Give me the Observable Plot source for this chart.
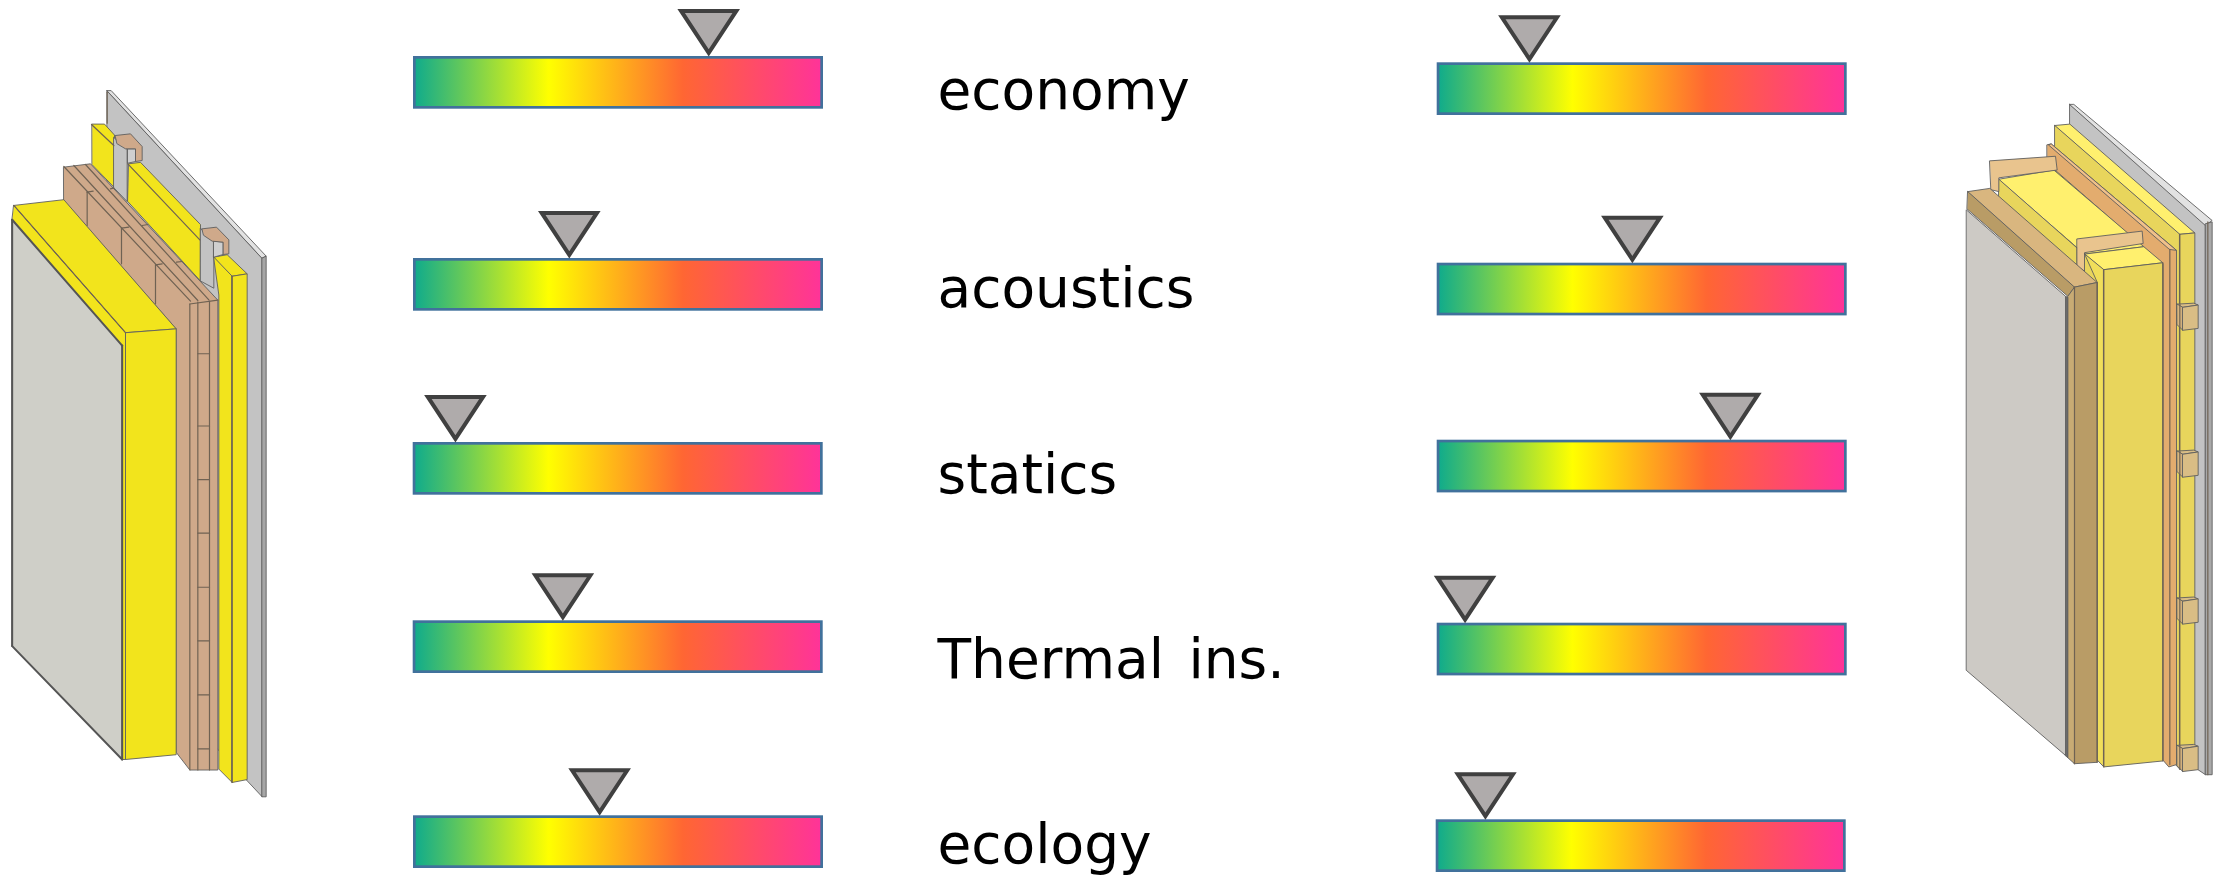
<!DOCTYPE html>
<html>
<head>
<meta charset="utf-8">
<script src="https://cdn.jsdelivr.net/npm/d3@7"></script>
<script src="https://cdn.jsdelivr.net/npm/@observablehq/plot@0.6"></script>
<style>
html,body{margin:0;padding:0;background:#fff;overflow:hidden}
svg{display:block}
svg text{word-spacing:7px}
.wall{filter:blur(0.45px)}
</style>
</head>
<body>
<div id="chart"></div>
<script>
// ---- chart values (position of the marker on each 0–100 scale) ----
const categories = ["economy", "acoustics", "statics", "Thermal ins.", "ecology"];
const leftScores  = [72, 38, 10.3, 36.5, 45.4];
const rightScores = [22.5, 47.6, 71.5, 6.8, 12];

// ---- gradient of the scale ----
const gradientOffsets = [0, 0.33, 0.66, 1];
const gradientColors  = ["#0fab8c", "#ffff00", "#ff6633", "#ff3399"];

// ---- layout of the rows, in page units ----
const leftBarStart  = [413, 413, 412.7, 412.7, 413];
const rightBarStart = [1436.7, 1436.7, 1436.7, 1436.7, 1435.7];
const leftBarTop    = [56, 258, 442, 620.3, 815.3];
const rightBarTop   = [62.3, 262.7, 439.7, 622.7, 819.3];
const labelBaseline = [108, 306, 492, 677.5, 862.5];
const barLength = 410, barHeight = 52.7, labelStart = 937;

const barRows = (starts, tops, scores) => categories.map((category, i) => ({
  category, score: scores[i],
  x1: starts[i] + 1.35, x2: starts[i] + barLength - 1.35,
  y1: tops[i] + 1.35, y2: tops[i] + barHeight - 1.35,
  markerX: starts[i] + scores[i] / 100 * barLength,
  markerY: tops[i]
}));
const rows = [
  ...barRows(leftBarStart, leftBarTop, leftScores),
  ...barRows(rightBarStart, rightBarTop, rightScores)
];
const labels = categories.map((category, i) => ({category, y: labelBaseline[i]}));

// inverted triangle, its tip sitting just above the anchor point
const markerSymbol = {
  draw(ctx, size) {
    const r = Math.sqrt(size / Math.PI);
    ctx.moveTo(0, -0.13 * r);
    ctx.lineTo(r, -1.65 * r);
    ctx.lineTo(-r, -1.65 * r);
    ctx.closePath();
  }
};

// ---- decorative wall sections: outlines ----
const Y = "#f2e41c", T = "#cfa98a", G = "#c3c3c3";
const leftWallShapes = [
  [G, [[320,42],[785,392],[785,1518],[640,1410],[640,500],[320,240]]],
  ["#e2e2e2", [[320,42],[332,42],[797,388],[785,392]]],
  ["#a6a6a6", [[785,392],[797,388],[797,1518],[785,1518]]],
  [Y, [[275,112],[312,112],[342,135],[342,245],[275,197]]],
  [G, [[340,140],[380,165],[380,274],[340,245]]],
  [Y, [[385,195],[420,192],[600,322],[600,440],[382,274]]],
  [G, [[600,330],[640,355],[640,455],[600,440]]],
  [Y, [[640,390],[680,385],[740,425],[695,430]]],
  [Y, [[640,390],[695,430],[695,1488],[655,1460],[655,470]]],
  [Y, [[695,430],[740,425],[740,1482],[695,1488]]],
  [T, [[190,202],[270,195],[652,480],[652,1462],[568,1462],[527,1425],[527,540],[190,272]]],
  [Y, [[40,282],[190,270],[527,540],[375,548]]],
  [Y, [[375,548],[527,540],[527,1430],[375,1440]]],
  [Y, [[40,282],[375,548],[375,1440],[365,1440],[365,575],[35,312]]],
  ["#cfcfc8", [[35,312],[365,575],[365,1440],[35,1203]]]
];
// caps of the two wall ties and the edges on top of the timber, traced on a finer crop
const leftTieShapes = [
  ["#cfcfcf", [[232,205],[255,205],[255,243],[232,248]]],
  [T, [[195,165],[240,160],[275,198],[275,240],[255,243],[255,205],[225,205],[200,190]]],
  ["#cfcfcf", [[490,482],[518,485],[518,522],[490,530]]],
  [T, [[455,445],[498,440],[535,478],[535,520],[518,522],[518,485],[485,482],[460,465]]]
];
const leftTopLines = [
  [[40,258],[420,662]], [[70,255],[442,660]], [[105,252],[475,658]],
  [[110,335],[110,435]], [[213,443],[213,550]], [[315,553],[315,670]],
  [[110,335],[128,332]], [[213,443],[235,440]], [[315,553],[335,550]],
  [[180,325],[190,322]], [[275,435],[292,432]], [[378,545],[395,543]],
  [[232,250],[448,478]], [[123,132],[190,195]], [[170,35],[170,128]]
];
const leftWallLines = [
  [[40,282],[375,548]], [[568,488],[652,480]],
  [[568,488],[568,1462]], [[592,484],[592,1462]], [[627,482],[627,1462]],
  [[592,592],[627,592]], [[592,743],[627,743]], [[592,855],[627,855]], [[592,967],[627,967]],
  [[592,1080],[627,1080]], [[592,1192],[627,1192]], [[592,1305],[627,1305]], [[592,1418],[627,1418]],
  [[695,430],[695,1488]]
];
const leftPanelEdges = [[[35,312],[365,575]], [[365,575],[365,1440]], [[35,312],[35,1203]], [[35,1203],[365,1440]]];
const BY = "#e8d55c", LY = "#fff06e", W = "#d9b67f", D = "#b99c66", O = "#e3ac6e", B = "#d9bd85", BT = "#e9c48e";
const block = y => [
  [B, [[740,y-5],[790,y-7],[803,y-3],[757,y+2]]],
  [W, [[740,y-5],[757,y+2],[757,y+52],[740,y+40]]],
  [B, [[757,y+2],[803,y-3],[803,y+48],[757,y+52]]]
];
const rightWallShapes = [
  [G, [[418,52],[825,312],[825,1512],[790,1495],[418,500]]],
  ["#e2e2e2", [[418,52],[430,52],[845,305],[825,315]]],
  ["#a9a9a9", [[825,312],[845,308],[845,1512],[825,1512]]],
  [LY, [[373,98],[418,95],[793,332],[748,335]]],
  [BY, [[373,98],[748,335],[748,1500],[735,1490],[373,300]]],
  [BY, [[748,335],[793,332],[793,1500],[748,1500]]],
  [O,  [[350,140],[362,138],[738,370],[738,1490],[715,1495],[697,1480],[697,400],[350,180]]],
  ["#f0c08a", [[355,140],[362,138],[738,370],[718,368]]],
  [LY, [[205,215],[370,195],[640,362],[463,378]]],
  [BY, [[205,215],[440,365],[440,410],[205,262]]],
  [BT, [[178,175],[375,165],[380,195],[205,212],[205,242],[182,238]]],
  [BT, [[440,345],[635,328],[638,355],[462,375],[462,415],[440,405]]],
  [LY, [[463,378],[640,362],[697,397],[520,412]]],
  ["#f0de5a", [[463,378],[520,412],[520,1495],[500,1480],[500,440]]],
  [BY, [[520,412],[697,397],[697,1482],[520,1495]]],
  [W,  [[112,242],[178,235],[500,440],[432,450]]],
  [D,  [[112,242],[432,450],[412,470],[110,280]]],
  [D,  [[432,450],[500,440],[500,1485],[432,1488]]],
  ["#c8ab74", [[412,470],[432,450],[432,1488],[412,1475]]],
  ["#6b6b6b", [[404,470],[412,472],[412,1475],[404,1470]]],
  ["#cdcac5", [[108,282],[405,470],[405,1470],[108,1285]]],
  ...block(492), ...block(812), ...block(1132), ...block(1453)
];
const rightWallLines = [
  [[520,412],[520,1495]], [[697,397],[697,1482]], [[718,368],[718,1490]], [[432,450],[432,1488]],
  [[500,440],[500,1485]], [[748,335],[748,1500]], [[832,308],[832,1512]]
];
// the traces were made on magnified crops; bring them back to page units
const leftPoint  = ([x, y]) => ({x: x / 3, y: 70 + y / 2.09});
const leftFine   = ([x, y]) => ({x: 50 + x / 3, y: 80 + y / 3});
const rightPoint = ([x, y]) => ({x: 1930 + x / 3, y: 80 + y / 2.178});

const shapeMarks = (shapes, toPage) => shapes.map(([fill, pts]) => Plot.line(pts.map(toPage), {
  x: "x", y: "y", fill, stroke: "#5f5f5f", strokeWidth: 0.9, curve: "linear-closed",
  strokeLinejoin: "round", className: "wall"
}));
const lineMarks = (lines, toPage, stroke = "#6f6253", strokeWidth = 1.2) => lines.map(pts => Plot.line(pts.map(toPage), {
  x: "x", y: "y", stroke, strokeWidth, className: "wall"
}));

const gradientDefs = () => {
  const defs = d3.create("svg:defs");
  const g = defs.append("linearGradient").attr("id", "scaleGradient")
    .attr("x1", "0%").attr("x2", "100%").attr("y1", "0%").attr("y2", "0%");
  gradientOffsets.forEach((o, i) => g.append("stop").attr("offset", o).attr("stop-color", gradientColors[i]));
  return defs.node();
};

const chart = Plot.plot({
  width: 2215,
  height: 879,
  margin: 0,
  style: {background: "#fff", maxWidth: "none"},
  x: {domain: [0, 2215], range: [0, 2215], axis: null},
  y: {domain: [0, 879], range: [0, 879], axis: null},
  marks: [
    gradientDefs,
    ...shapeMarks(leftWallShapes, leftPoint),
    ...shapeMarks(leftTieShapes, leftFine),
    ...lineMarks(leftTopLines, leftFine),
    ...lineMarks(leftWallLines, leftPoint),
    ...lineMarks(leftPanelEdges, leftPoint, "#555", 2),
    ...shapeMarks(rightWallShapes, rightPoint),
    ...lineMarks(rightWallLines, rightPoint),
    Plot.rect(rows, {
      x1: "x1", x2: "x2", y1: "y1", y2: "y2",
      fill: "url(#scaleGradient)", stroke: "#41719c", strokeWidth: 2.7
    }),
    Plot.dot(rows, {
      x: "markerX", y: "markerY", r: 27.6, symbol: markerSymbol,
      fill: "#afabab", stroke: "#404040", strokeWidth: 4, strokeLinejoin: "miter"
    }),
    Plot.text(labels, {
      x: () => labelStart, y: "y", text: "category",
      textAnchor: "start", lineAnchor: "bottom",
      fontFamily: "DejaVu Sans", fontSize: 55, fill: "#000"
    })
  ]
});
document.getElementById("chart").appendChild(chart);
</script>
</body>
</html>
